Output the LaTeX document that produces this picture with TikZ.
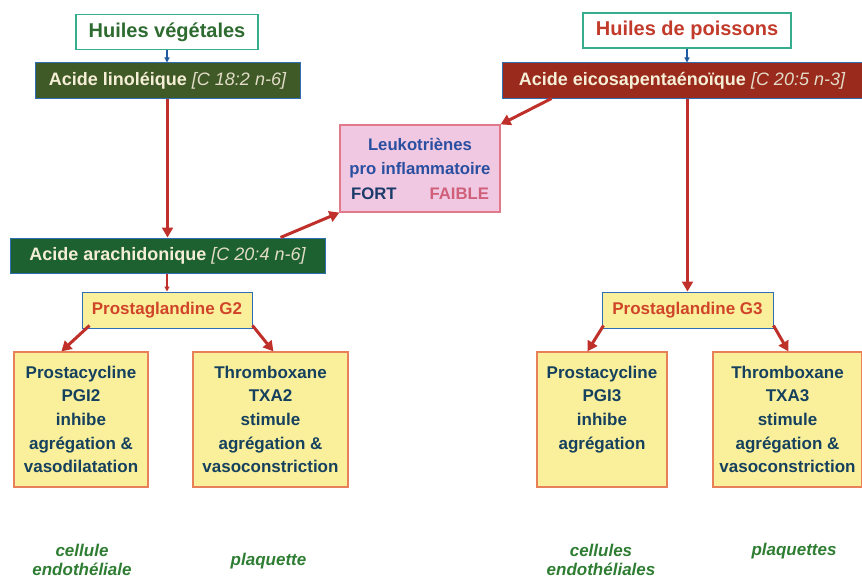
\documentclass[tikz,border=0pt]{standalone}
\usepackage{fontspec}
\setmainfont{Liberation Sans}
\usepackage{tikz}
\usetikzlibrary{positioning,arrows.meta}
\definecolor{oilframe}{HTML}{36AE8E}
\definecolor{vegtext}{HTML}{2E6B30}
\definecolor{fishtext}{HTML}{C23A2A}
\definecolor{acidframe}{HTML}{2F6DB5}
\definecolor{acidtext}{HTML}{F5EED6}
\definecolor{acidlight}{HTML}{E2DCC8}
\definecolor{linfill}{HTML}{3F5A26}
\definecolor{arafill}{HTML}{1D6130}
\definecolor{epafill}{HTML}{9A2A1C}
\definecolor{leukofill}{HTML}{F0C8E2}
\definecolor{leukoframe}{HTML}{E07A8A}
\definecolor{leukotext}{HTML}{2A4FA0}
\definecolor{fortblue}{HTML}{1A3A6A}
\definecolor{faiblered}{HTML}{D0607A}
\definecolor{pgfill}{HTML}{FAF09C}
\definecolor{pgtext}{HTML}{D0452A}
\definecolor{effframe}{HTML}{E8805A}
\definecolor{efftext}{HTML}{15405E}
\definecolor{cellgreen}{HTML}{2E7D32}
\definecolor{flowred}{HTML}{C0302A}
\definecolor{feedblue}{HTML}{1F5AA0}
\tikzset{
  oil/.style={draw=oilframe, line width=1.2pt, fill=white, inner sep=0pt,
              font=\fontsize{20}{24}\selectfont\bfseries, minimum height=35pt},
  acid/.style={draw=acidframe, line width=1pt, text=acidtext, inner sep=0pt,
               font=\fontsize{18}{22}\selectfont\bfseries, minimum height=35pt},
  pg/.style={draw=acidframe, line width=1pt, fill=pgfill, text=pgtext, inner sep=0pt,
             font=\fontsize{17}{20}\selectfont\bfseries, minimum height=36pt},
  effect/.style={draw=effframe, line width=1.2pt, fill=pgfill, text=efftext, align=center,
                 inner sep=0pt, font=\fontsize{17}{23.7}\selectfont\bfseries, minimum height=135pt},
  cell/.style={text=cellgreen, align=center, font=\fontsize{17}{19}\selectfont\bfseries\itshape},
  flow/.style={-{Triangle[length=10pt,width=11pt]}, draw=flowred, line width=2.2pt},
  split/.style={flow, line width=3pt},
  feed/.style={-{Triangle[length=5pt,width=5pt]}, draw=feedblue, line width=1.5pt},
}
\newcommand{\chain}[1]{{\mdseries\itshape\color{acidlight}#1}}

\begin{document}
\begin{tikzpicture}[x=1pt,y=-1pt]
  \useasboundingbox (0,0) rectangle (862,578);
  \node[oil, text=vegtext, minimum width=182pt] (veg) at (167,32) {Huiles végétales};
  \node[oil, text=fishtext, minimum width=208pt] (fish) at (687,30.5) {Huiles de poissons};
  \node[acid, fill=linfill, minimum width=265pt] (lin) at (167.5,80.5) {Acide linoléique \chain{[C 18:2 n-6]}};
  \node[acid, fill=epafill, minimum width=360pt] (epa) at (682,80.5) {Acide eicosapentaénoïque \chain{[C 20:5 n-3]}};
  \node[acid, fill=arafill, minimum width=315pt] (ara) at (167.5,255.5) {Acide arachidonique \chain{[C 20:4 n-6]}};
  \node[draw=leukoframe, line width=1.2pt, fill=leukofill, text=leukotext, align=center, inner sep=0pt,
        font=\fontsize{16.7}{24.5}\selectfont\bfseries, minimum width=160pt, minimum height=87pt]
        (leuko) at (420,168.5) {Leukotriènes\\pro inflammatoire\\{\color{fortblue}FORT}\hspace{33pt}{\color{faiblered}FAIBLE}};
  \node[pg, minimum width=170pt] (pg2) at (167,310) {Prostaglandine G2};
  \node[pg, minimum width=171pt] (pg3) at (687.5,310) {Prostaglandine G3};
  \node[effect, minimum width=134pt] (pgi2) at (81,419.5) {Prostacycline\\PGI2\\inhibe\\agrégation \&\\vasodilatation};
  \node[effect, minimum width=155pt] (txa2) at (270.5,419.5) {Thromboxane\\TXA2\\stimule\\agrégation \&\\vasoconstriction};
  \node[effect, minimum width=130pt] (pgi3) at (602,419.5) {Prostacycline\\PGI3\\inhibe\\agrégation\\\mbox{}};
  \node[effect, minimum width=149pt] (txa3) at (787.5,419.5) {Thromboxane\\TXA3\\stimule\\agrégation \&\\vasoconstriction};
  \node[cell] (endo2) at (82,560) {cellule\\endothéliale};
  \node[cell] (plaq2) at (268.5,561) {plaquette};
  \node[cell] (endo3) at (601,560) {cellules\\endothéliales};
  \node[cell] (plaq3) at (794,551) {plaquettes};
  \draw[feed] (veg.south) -- (veg.south |- lin.north);
  \draw[feed] (fish.south) -- (fish.south |- epa.north);
  \draw[flow] (lin.south) -- (ara.north);
  \draw[split] ([xshift=-45pt]ara.north east) -- (leuko.south west);
  \draw[split] ([xshift=50pt]epa.south west) -- (leuko.north east);
  \draw[flow] (pg3.north |- epa.south) -- (pg3.north);
  \draw[flow, line width=1.2pt, -{Triangle[length=5pt,width=5pt]}] (ara.south -| pg2.north) -- (pg2.north);
  \draw[split] ([xshift=8pt,yshift=3pt]pg2.south west) -- ([xshift=48pt]pgi2.north west);
  \draw[split] ([yshift=3pt]pg2.south east) -- ([xshift=81pt]txa2.north west);
  \draw[split] ([xshift=2pt,yshift=3pt]pg3.south west) -- ([xshift=51pt]pgi3.north west);
  \draw[split] ([yshift=3pt]pg3.south east) -- ([xshift=76pt]txa3.north west);
\end{tikzpicture}
\end{document}
